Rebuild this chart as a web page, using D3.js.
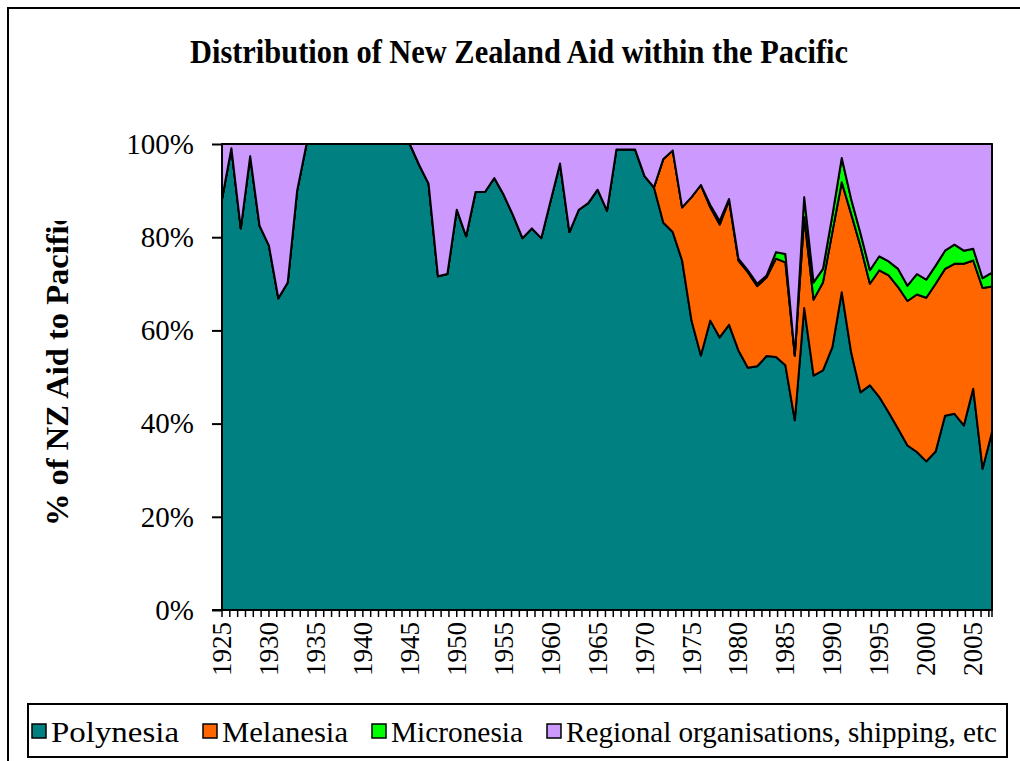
<!DOCTYPE html>
<html>
<head>
<meta charset="utf-8">
<script src="https://cdn.jsdelivr.net/npm/d3@7"></script>
<style>
  body { margin: 0; background: #fff; }
</style>
</head>
<body>
<div class="chart"></div>
<script>
// categories and series (share of NZ aid to the Pacific, %)
const years = d3.range(1925, 2008);
const seriesNames = ["Polynesia", "Melanesia", "Micronesia", "Regional organisations, shipping, etc"];
const seriesColors = ["#008080", "#FF6600", "#00FF00", "#CC99FF"];

const polynesia = [
  88.2, 99.1, 81.9, 97.4, 82.5, 78.2, 66.9, 70.3, 90.0, 100,
  100, 100, 100, 100, 100, 100, 100, 100, 100, 100,
  100, 95.5, 91.5, 71.6, 72.1, 85.9, 80.2, 89.7, 89.7, 92.7,
  89.1, 84.7, 79.8, 81.9, 79.8, 87.9, 95.8, 81.1, 85.9, 87.3,
  90.2, 85.7, 98.8, 98.8, 98.8, 93.1, 90.7, 83.1, 81.1, 75.0,
  62.1, 54.6, 62.1, 58.5, 61.2, 55.7, 52.0, 52.3, 54.5, 54.3,
  52.5, 40.7, 64.8, 50.3, 51.4, 56.4, 68.2, 55.3, 46.7, 48.2,
  45.7, 42.4, 38.9, 35.3, 33.9, 31.9, 34.0, 41.7, 42.1, 39.6,
  47.5, 30.3, 38.2
];
const melanesia = [
  0, 0, 0, 0, 0, 0, 0, 0, 0, 0,
  0, 0, 0, 0, 0, 0, 0, 0, 0, 0,
  0, 0, 0, 0, 0, 0, 0, 0, 0, 0,
  0, 0, 0, 0, 0, 0, 0, 0, 0, 0,
  0, 0, 0, 0, 0, 0, 0, 13.7, 17.5, 11.4,
  26.5, 36.6, 24.3, 24.2, 26.7, 19.3, 20.5, 17.2, 16.9, 21.1,
  22.1, 13.9, 19.5, 16.3, 18.9, 24.7, 23.6, 29.7, 31.3, 21.8,
  27.2, 29.4, 30.4, 31.0, 33.8, 35.1, 36.0, 31.5, 32.2, 34.7,
  27.5, 38.8, 31.2
];
const micronesia = [
  0, 0, 0, 0, 0, 0, 0, 0, 0, 0,
  0, 0, 0, 0, 0, 0, 0, 0, 0, 0,
  0, 0, 0, 0, 0, 0, 0, 0, 0, 0,
  0, 0, 0, 0, 0, 0, 0, 0, 0, 0,
  0, 0, 0, 0, 0, 0, 0, 0, 0, 0,
  0, 0, 0.5, 0.8, 0.3, 0.4, 0.4, 0.5, 0.4, 1.4,
  1.8, 0.0, 4.3, 3.7, 2.9, 3.6, 5.2, 3.2, 2.8, 2.9,
  3.0, 3.0, 3.9, 3.3, 4.4, 3.9, 3.9, 3.9, 4.1, 2.8,
  2.5, 2.1, 3.0
];
const regional = [
  11.8, 0.9, 18.1, 2.6, 17.5, 21.8, 33.1, 29.7, 10.0, 0,
  0, 0, 0, 0, 0, 0, 0, 0, 0, 0,
  0, 4.5, 8.5, 28.4, 27.9, 14.1, 19.8, 10.3, 10.3, 7.3,
  10.9, 15.3, 20.2, 18.1, 20.2, 12.1, 4.2, 18.9, 14.1, 12.7,
  9.8, 14.3, 1.2, 1.2, 1.2, 6.9, 9.3, 3.2, 1.4, 13.6,
  11.4, 8.8, 13.1, 16.5, 11.8, 24.6, 27.1, 30.0, 28.2, 23.2,
  23.6, 45.4, 11.4, 29.7, 26.8, 15.3, 3.0, 11.8, 19.2, 27.1,
  24.1, 25.2, 26.8, 30.4, 27.9, 29.1, 26.1, 22.9, 21.6, 22.9,
  22.5, 28.8, 27.6
];
const yTicks = [0, 0.2, 0.4, 0.6, 0.8, 1];
const yearLabels = [1925, 1930, 1935, 1940, 1945, 1950, 1955, 1960, 1965, 1970,
  1975, 1980, 1985, 1990, 1995, 2000, 2005];

const width = 1020;
const height = 761;
const plot = { left: 222, right: 992, top: 144, bottom: 610 };
const serif = "'Liberation Serif', 'Times New Roman', serif";

const table = years.map((y, i) => ({
  year: y,
  [seriesNames[0]]: polynesia[i],
  [seriesNames[1]]: melanesia[i],
  [seriesNames[2]]: micronesia[i],
  [seriesNames[3]]: regional[i]
}));

const stacked = d3.stack()
  .keys(seriesNames)
  .offset(d3.stackOffsetExpand)(table);

const x = d3.scaleLinear()
  .domain([years[0], years[years.length - 1]])
  .range([plot.left, plot.right]);

const y = d3.scaleLinear()
  .domain([0, 1])
  .range([plot.bottom, plot.top]);

const color = d3.scaleOrdinal().domain(seriesNames).range(seriesColors);

const svg = d3.select('.chart')
  .append('svg')
  .attr('width', width)
  .attr('height', height)
  .style('font-family', serif);

// force a text to the width it has in the original (condensed rendering)
function fitTo(sel, w) {
  sel.attr('textLength', w).attr('lengthAdjust', 'spacingAndGlyphs');
}

// outer frame
svg.append('rect')
  .attr('x', 8).attr('y', 8)
  .attr('width', width + 20).attr('height', height + 20)
  .attr('fill', 'none').attr('stroke', '#000').attr('stroke-width', 2);

// title
svg.append('text')
  .attr('x', 519).attr('y', 63)
  .attr('text-anchor', 'middle')
  .style('font-size', '34px').style('font-weight', 'bold')
  .text('Distribution of New Zealand Aid within the Pacific')
  .call(fitTo, 658);

// plot area border
svg.append('rect')
  .attr('x', plot.left).attr('y', plot.top)
  .attr('width', plot.right - plot.left).attr('height', plot.bottom - plot.top)
  .attr('fill', 'none').attr('stroke', '#808080').attr('stroke-width', 2);

// stacked areas
const area = d3.area()
  .x(d => x(d.data.year))
  .y0(d => y(d[0]))
  .y1(d => y(d[1]));

svg.append('g')
  .selectAll('path')
  .data(stacked)
  .join('path')
    .attr('d', area)
    .attr('fill', d => color(d.key))
    .attr('stroke', '#000')
    .attr('stroke-width', 2)
    .attr('stroke-linejoin', 'round');

// y axis
svg.append('g')
  .attr('transform', `translate(${plot.left}, 0)`)
  .call(d3.axisLeft(y).tickValues(yTicks).tickFormat(d3.format('.0%')).tickSize(10).tickPadding(18))
  .call(g => g.select('.domain').attr('stroke-width', 2).attr('d', `M0,${plot.top}V${plot.bottom}`))
  .call(g => g.selectAll('.tick line').attr('stroke-width', 2))
  .call(g => g.selectAll('.tick text')
    .attr('fill', '#000')
    .style('font-family', serif)
    .style('font-size', '29px'));

// x axis: minor ticks, labels every five years
const minorTicks = d3.range(years[0], years[years.length - 1] + 0.5, 5 / 6);
const xAxis = svg.append('g')
  .attr('transform', `translate(0, ${plot.bottom})`);
xAxis.append('path')
  .attr('d', `M${plot.left - 10},0H${plot.right}`)
  .attr('stroke', '#000').attr('stroke-width', 2);
xAxis.selectAll('line')
  .data(minorTicks.concat([years[years.length - 1] + 0.5]))
  .join('line')
    .attr('x1', d => Math.min(x(d), plot.right)).attr('x2', d => Math.min(x(d), plot.right))
    .attr('y1', 0).attr('y2', 7)
    .attr('stroke', '#000').attr('stroke-width', 1.5);
xAxis.selectAll('text')
  .data(yearLabels)
  .join('text')
    .attr('transform', d => `translate(${x(d) + 9}, 12) rotate(-90)`)
    .attr('text-anchor', 'end')
    .style('font-size', '27px')
    .text(d => d);

// y axis title, clipped at the top like the original
svg.append('clipPath').attr('id', 'ytitle-clip')
  .append('rect').attr('x', 0).attr('y', 221).attr('width', 120).attr('height', 400);
svg.append('g')
  .attr('clip-path', 'url(#ytitle-clip)')
  .append('text')
    .attr('transform', 'translate(68, 526) rotate(-90)')
    .style('font-size', '32.5px').style('font-weight', 'bold')
    .text('% of NZ Aid to Pacific');

// legend
const legend = svg.append('g');
legend.append('rect')
  .attr('x', 28).attr('y', 704).attr('width', 979).attr('height', 53)
  .attr('fill', '#fff').attr('stroke', '#000').attr('stroke-width', 2);
const legendWidths = [128, 126, 132, 431];
let lx = 32;
seriesNames.forEach((name, i) => {
  legend.append('rect')
    .attr('x', lx).attr('y', 724).attr('width', 14).attr('height', 14)
    .attr('fill', color(name)).attr('stroke', '#000').attr('stroke-width', 1.5);
  legend.append('text')
    .attr('x', lx + 19).attr('y', 742)
    .style('font-size', '30px')
    .text(name)
    .call(fitTo, legendWidths[i]);
  lx += 19 + legendWidths[i] + 24;
});
</script>
</body>
</html>
